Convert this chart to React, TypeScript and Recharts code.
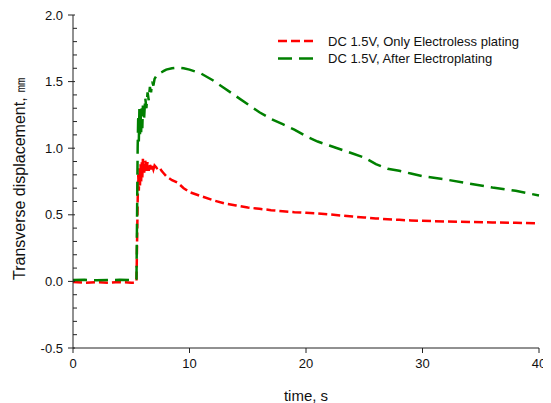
import React from "react";
import { LineChart, Line, XAxis, YAxis, Legend } from "recharts";

const time = [
  0, 1, 2, 3, 4, 5, 5.3, 5.45, 5.5, 5.55, 5.6, 5.65, 5.7, 5.75, 5.8, 5.85, 5.9, 5.95,
  6.0, 6.1, 6.2, 6.3, 6.4, 6.5, 6.6, 6.7, 6.8, 6.9, 7.0, 7.2, 7.4, 7.6, 7.8, 8.0,
  8.5, 9.0, 9.5, 10, 11, 12, 13, 14, 15, 16, 17, 18, 19, 20, 21, 22, 23, 24, 25,
  26, 27, 28, 29, 30, 32, 34, 36, 38, 40,
];

const onlyElectroless = [
  -0.005, -0.01, -0.005, -0.01, -0.005, -0.01, -0.01, 0.0, 0.3, 0.6, 0.8, 0.68, 0.85, 0.72,
  0.88, 0.75, 0.9, 0.78, 0.92, 0.8, 0.91, 0.82, 0.9, 0.83, 0.88, 0.84, 0.87, 0.84,
  0.87, 0.85, 0.86, 0.83, 0.81, 0.79, 0.76, 0.74, 0.7, 0.67, 0.64, 0.61, 0.585,
  0.57, 0.555, 0.545, 0.535, 0.527, 0.52, 0.515, 0.51, 0.503, 0.495, 0.487, 0.48,
  0.473, 0.467, 0.462, 0.458, 0.455, 0.45, 0.446, 0.443, 0.44, 0.435,
];

const afterElectroplating = [
  0.01, 0.012, 0.008, 0.01, 0.012, 0.01, 0.01, 0.02, 0.5, 1.0, 1.25, 1.05, 1.3, 1.1,
  1.28, 1.12, 1.3, 1.15, 1.32, 1.22, 1.38, 1.3, 1.42, 1.36, 1.46, 1.42, 1.5, 1.47,
  1.52, 1.55, 1.56, 1.57, 1.58, 1.59, 1.6, 1.605, 1.6, 1.59, 1.56, 1.51, 1.45, 1.39,
  1.33, 1.27, 1.22, 1.18, 1.14, 1.09, 1.05, 1.02, 0.99, 0.96, 0.93, 0.88, 0.845,
  0.83, 0.81, 0.79, 0.765, 0.735, 0.705, 0.68, 0.645,
];

const seriesNames = ["DC 1.5V, Only Electroless plating", "DC 1.5V, After Electroplating"];
const seriesColors = ["#ff0000", "#008000"];
const seriesDash = ["9 4", "14 7"];

const xTicks = [0, 10, 20, 30, 40];
const yMajorTicks = [-0.5, 0, 0.5, 1.0, 1.5, 2.0];
const yAllTicks = [
  -0.5, -0.4, -0.3, -0.2, -0.1, 0, 0.1, 0.2, 0.3, 0.4, 0.5, 0.6, 0.7, 0.8, 0.9, 1.0,
  1.1, 1.2, 1.3, 1.4, 1.5, 1.6, 1.7, 1.8, 1.9, 2.0,
];
const xTitle = "time, s";
const yTitle = "Transverse displacement, ㎜";

const data = time.map((t, i) => ({
  t,
  a: onlyElectroless[i],
  b: afterElectroplating[i],
}));

const FONT = "'Liberation Sans', Arial, sans-serif";
const AXIS = "#222";
const TICK_SIZE = 4;
const TICK_MARGIN = 6;

const YTick = (props: any) => {
  const { x, y, payload } = props;
  const v = payload.value;
  const axisX = x + TICK_SIZE + TICK_MARGIN;
  const isMajor = yMajorTicks.some((m) => Math.abs(m - v) < 1e-6);
  if (isMajor) {
    return (
      <g>
        <line x1={axisX - 5} x2={axisX + 2} y1={y} y2={y} stroke={AXIS} strokeWidth={1} />
        <text x={x} y={y} dy={4.5} textAnchor="end" fontSize={13} fontFamily={FONT} fill="#111">
          {v.toFixed(1)}
        </text>
      </g>
    );
  }
  return <line x1={axisX} x2={axisX + 4} y1={y} y2={y} stroke={AXIS} strokeWidth={1} />;
};

const YTitle = (props: any) => {
  const vb = props.viewBox || { x: 0, y: 0, width: 0, height: 0 };
  const cx = vb.x + 17;
  const cy = vb.y + vb.height / 2 - 3;
  return (
    <text
      x={cx}
      y={cy}
      transform={`rotate(-90, ${cx}, ${cy})`}
      textAnchor="middle"
      fontSize={16}
      fontFamily={FONT}
      fill="#111"
    >
      {yTitle}
    </text>
  );
};

const renderLegend = () => (
  <svg width={270} height={40} style={{ display: "block" }}>
    {seriesNames.map((name, i) => (
      <g key={name}>
        <line
          x1={0}
          x2={37}
          y1={8 + i * 17.6}
          y2={8 + i * 17.6}
          stroke={seriesColors[i]}
          strokeWidth={2.5}
          strokeDasharray={seriesDash[i]}
        />
        <text x={50} y={8 + i * 17.6} dy={4.5} fontSize={13} fontFamily={FONT} fill="#111">
          {name}
        </text>
      </g>
    ))}
  </svg>
);

export default function App() {
  return (
    <LineChart
      width={543}
      height={395}
      data={data}
      margin={{ top: 7, right: 12, bottom: 0, left: 0 }}
    >
      <XAxis
        dataKey="t"
        type="number"
        domain={[0, 40]}
        ticks={xTicks}
        tickSize={5}
        tickMargin={6}
        stroke={AXIS}
        tick={{ fontSize: 13, fontFamily: FONT, fill: "#111" }}
        height={55}
        label={{
          value: xTitle,
          position: "insideBottom",
          offset: 2,
          fontSize: 15,
          fontFamily: FONT,
          fill: "#111",
        }}
      />
      <XAxis
        xAxisId="top"
        dataKey="t"
        type="number"
        orientation="top"
        domain={[0, 40]}
        height={0}
        tick={false}
        tickLine={false}
        stroke={AXIS}
      />
      <YAxis
        type="number"
        domain={[-0.5, 2.0]}
        ticks={yAllTicks}
        interval={0}
        tickLine={false}
        tickSize={TICK_SIZE}
        tickMargin={TICK_MARGIN}
        tick={<YTick />}
        stroke={AXIS}
        width={65}
        label={<YTitle />}
      />
      <YAxis
        yAxisId="right"
        orientation="right"
        type="number"
        domain={[-0.5, 2.0]}
        width={0}
        tick={false}
        tickLine={false}
        stroke={AXIS}
      />
      <Legend
        layout="vertical"
        align="center"
        verticalAlign="middle"
        wrapperStyle={{ position: "absolute", left: 270, top: 25, width: 270 }}
        content={renderLegend}
      />
      <Line
        dataKey="a"
        name={seriesNames[0]}
        stroke={seriesColors[0]}
        strokeWidth={2.5}
        strokeDasharray={seriesDash[0]}
        dot={false}
        activeDot={false}
        type="linear"
        isAnimationActive={false}
      />
      <Line
        dataKey="b"
        name={seriesNames[1]}
        stroke={seriesColors[1]}
        strokeWidth={2.5}
        strokeDasharray={seriesDash[1]}
        dot={false}
        activeDot={false}
        type="linear"
        isAnimationActive={false}
      />
    </LineChart>
  );
}
